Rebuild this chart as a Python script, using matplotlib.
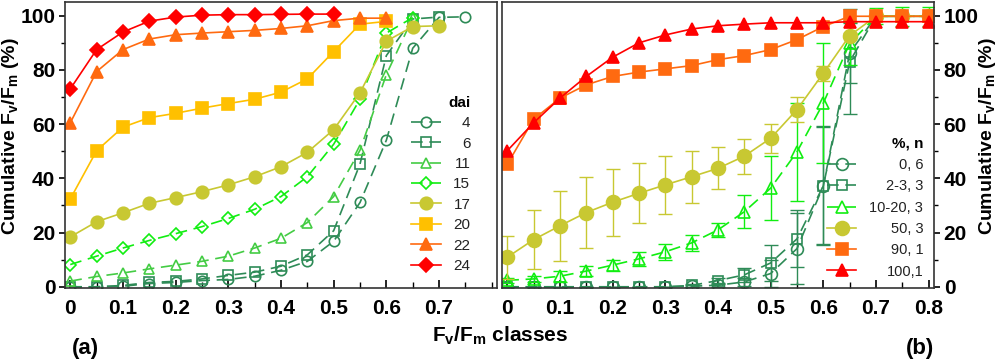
import numpy as np
import matplotlib.pyplot as plt
from matplotlib.ticker import MultipleLocator
from matplotlib.transforms import IdentityTransform

plt.rcParams['font.family'] = ['Liberation Sans', 'DejaVu Sans']
plt.rcParams['mathtext.default'] = 'regular'

# ---- panel (a): cumulative Fv/Fm per day after inoculation ----
dai_labels = ['4', '6', '11', '15', '17', '20', '22', '24']
dai_4 = [0, 0, 0.2, 1.2, 1.6, 2.3, 2.7, 3.9, 6.1, 9.4, 16.8, 31.1, 54.1, 88, 99.4, 99.6]
dai_6 = [0, 0, 0.5, 1.6, 2, 2.9, 4.2, 5.4, 7.6, 11.8, 20.7, 45.3, 85.3, 98.8, 99.5]
dai_11 = [2.1, 3.8, 5.1, 6.6, 8, 9.4, 11.3, 14.3, 17.9, 23.7, 33.3, 50.4, 78.3, 99.2]
dai_15 = [8.2, 11.3, 14.3, 17.1, 19.6, 22.2, 25.2, 28.6, 33.3, 40.6, 52.6, 69.2, 93.6, 99.3]
dai_17 = [18.4, 24, 27.3, 30.8, 32.9, 35.1, 37.6, 40.6, 44.3, 49.6, 58, 71.6, 90.6, 96, 96.3]
dai_20 = [32.4, 50.2, 58.9, 62.4, 64, 65.9, 67.6, 69.2, 71.8, 76.7, 86.8, 96.9, 97.9]
dai_22 = [60.5, 79.4, 87.5, 91.4, 93, 93.6, 94.1, 94.6, 95.3, 96.3, 98.2, 99.1, 99.1]
dai_24 = [73, 87.5, 94, 98, 99.5, 100.2, 100.4, 100.4, 100.5, 100.6, 100.6]

# ---- panel (b): cumulative Fv/Fm per disease severity (%, n) ----
sev_labels = ['0, 6', '2-3, 3', '10-20, 3', '50, 3', '90, 1', '100,1']
sev_0 = [0, 0, 0, 0, 0, 0, 0, 0.2, 0.6, 1.8, 4.9, 14.1, 37.3, 86.3, 99.8, 99.8, 99.8]
sev_0_err = [0, 0, 0, 0, 0, 0, 0, 0.3, 0.5, 1.5, 5, 13, 22, 11, 0.5, 0.5, 0.5]
sev_2 = [0, 0, 0, 0, 0, 0, 0, 0.5, 2.3, 4.4, 8.8, 17.7, 37.3, 83.1, 99.8, 99.8, 99.8]
sev_2_err = [0, 0, 0, 0, 0, 0, 0, 0.5, 1, 2.5, 6.5, 10.5, 21.5, 19.5, 0.5, 0.5, 0.5]
sev_10 = [2.4, 2.9, 3.9, 5.8, 8, 10.3, 12.9, 16.2, 21, 27.7, 36.4, 49.8, 67.8, 89.8, 99.8, 99.8, 99.8]
sev_10_err = [1, 1, 2, 2, 2, 2.5, 3, 3, 2.5, 6, 11.7, 18, 22, 8, 3, 3.5, 3.5]
sev_50 = [10.9, 17.4, 22.5, 27.4, 31.2, 34.5, 37.6, 40.6, 43.7, 48.2, 54.8, 65.4, 78.8, 92.7, 99.8, 99.8, 99.8]
sev_50_err = [8, 11, 13, 13, 12.4, 11, 10.6, 9.6, 7.8, 6.5, 5.4, 4.6, 2.8, 1, 0.3, 0.3, 0.3]
sev_90 = [45.2, 61.8, 69.6, 74.5, 77.6, 79.2, 80.4, 81.6, 83.8, 85.3, 87.5, 91.2, 96, 99.8, 99.8, 99.8, 99.8]
sev_100 = [50.2, 60.5, 69.6, 77.6, 84.7, 90, 92.9, 95.1, 96.3, 96.9, 97.4, 97.4, 97.4, 97.8, 97.8, 97.8, 97.8]

classes = np.arange(0, 0.801, 0.05)

dkgreen = '#2e8b57'
ltgreen = '#44cc44'
brgreen = '#11ee11'
olive = '#c8c832'
gold = '#ffc000'
orange = '#ff6a10'
red = '#ff0000'
dash = (0, (7, 4))

fig = plt.figure(figsize=(10, 3.62), dpi=100)
ax1 = fig.add_axes([0.065, 0.204, 0.432, 0.79])
ax2 = fig.add_axes([0.502, 0.204, 0.432, 0.79])

styles_a = [
    (dai_4, dkgreen, 'o', 'none', dash, 7.5),
    (dai_6, dkgreen, 's', 'none', dash, 7),
    (dai_11, ltgreen, '^', 'none', dash, 7),
    (dai_15, brgreen, 'D', 'none', dash, 6),
    (dai_17, olive, 'o', olive, '-', 9),
    (dai_20, gold, 's', gold, '-', 8),
    (dai_22, orange, '^', orange, '-', 8.5),
    (dai_24, red, 'D', red, '-', 7),
]
for (vals, col, mk, fc, ls, ms), lab in zip(styles_a, dai_labels):
    ax1.plot(classes[:len(vals)], vals, color=col, marker=mk, mfc=fc, mec=col,
             ls=ls, lw=1.2, ms=ms, mew=1.2, label=lab)

styles_b = [
    (sev_0, sev_0_err, dkgreen, 'o', 'none', dash, 8.5),
    (sev_2, sev_2_err, dkgreen, 's', 'none', dash, 7.5),
    (sev_10, sev_10_err, brgreen, '^', 'none', dash, 8),
    (sev_50, sev_50_err, olive, 'o', olive, '-', 10),
    (sev_90, None, orange, 's', orange, '-', 9),
    (sev_100, None, red, '^', red, '-', 8.5),
]
for (vals, err, col, mk, fc, ls, ms), lab in zip(styles_b, sev_labels):
    if err is not None:
        ax2.errorbar(classes, vals, yerr=err, color=col, ecolor=col, elinewidth=1,
                     capsize=5, capthick=1, ls='none', marker='none')
    ax2.plot(classes, vals, color=col, marker=mk, mfc=fc, mec=col,
             ls=ls, lw=1.2, ms=ms, mew=1.2, label=lab)

for ax in (ax1, ax2):
    ax.set_xlim(-0.01, 0.81)
    ax.set_ylim(-0.5, 105)
    ax.xaxis.set_minor_locator(MultipleLocator(0.05))
    ax.yaxis.set_minor_locator(MultipleLocator(10))
    ax.tick_params(axis='x', which='major', direction='in', length=6, width=1.2,
                   labelsize=15, pad=8)
    ax.tick_params(axis='x', which='minor', direction='in', length=4, width=1)
    ax.tick_params(axis='y', which='major', direction='out', length=4, width=1.2,
                   labelsize=15, pad=3)
    ax.tick_params(axis='y', which='minor', direction='out', length=3, width=1)
    for sp in ax.spines.values():
        sp.set_linewidth(1.2)
        sp.set_color('#333333')
    ax.set_yticks([0, 20, 40, 60, 80, 100])
    ax.set_yticklabels(['0', '20', '40', '60', '80', '100'], fontweight='bold')

ax1.set_xticks(np.arange(0, 0.71, 0.1))
ax1.set_xticklabels(['0', '0.1', '0.2', '0.3', '0.4', '0.5', '0.6', '0.7'], fontweight='bold')
ax2.set_xticks(np.arange(0, 0.81, 0.1))
ax2.set_xticklabels(['0', '0.1', '0.2', '0.3', '0.4', '0.5', '0.6', '0.7', '0.8'], fontweight='bold')
ax2.yaxis.tick_right()
ax2.yaxis.set_label_position('right')

ylab = 'Cumulative F$_v$/F$_m$ (%)'
ax1.set_ylabel(ylab, fontsize=14, fontweight='bold')
ax2.set_ylabel(ylab, fontsize=14, fontweight='bold')
ax1.yaxis.set_label_coords(-0.102, 0.53)
ax2.yaxis.set_label_coords(1.1, 0.53)

leg1 = ax1.legend(loc='lower right', bbox_to_anchor=(0.956, 0.026), frameon=False,
                  title='dai', fontsize=11, handlelength=2.0, labelspacing=0.42,
                  handletextpad=0.8, alignment='right', borderpad=0)
leg2 = ax2.legend(loc='lower right', bbox_to_anchor=(0.992, 0.008), frameon=False,
                  title='%, n', fontsize=10.5, handlelength=2.0, labelspacing=0.5,
                  handletextpad=0.9, alignment='right', borderpad=0)
for leg in (leg1, leg2):
    leg.get_title().set_fontweight('bold')
    leg.get_title().set_fontsize(11)

fig.text(0.5, 0.072, 'F$_v$/F$_m$ classes', ha='center', va='center',
         fontsize=15, fontweight='bold')
fig.text(0.085, 0.036, '(a)', ha='center', va='center', fontsize=16, fontweight='bold')
fig.text(0.92, 0.036, '(b)', ha='center', va='center', fontsize=16, fontweight='bold')

# right-align legend labels like the original
fig.canvas.draw()
for leg in (leg1, leg2):
    texts = leg.get_texts()
    boxes = [t.get_window_extent() for t in texts]
    xr = max(b.x1 for b in boxes)
    for t, b in zip(texts, boxes):
        fig.text(xr, (b.y0 + b.y1) / 2, t.get_text(), transform=IdentityTransform(),
                 ha='right', va='center', fontsize=t.get_fontsize(), color='#222222')
        t.set_visible(False)

fig.savefig('out.png', dpi=100)
